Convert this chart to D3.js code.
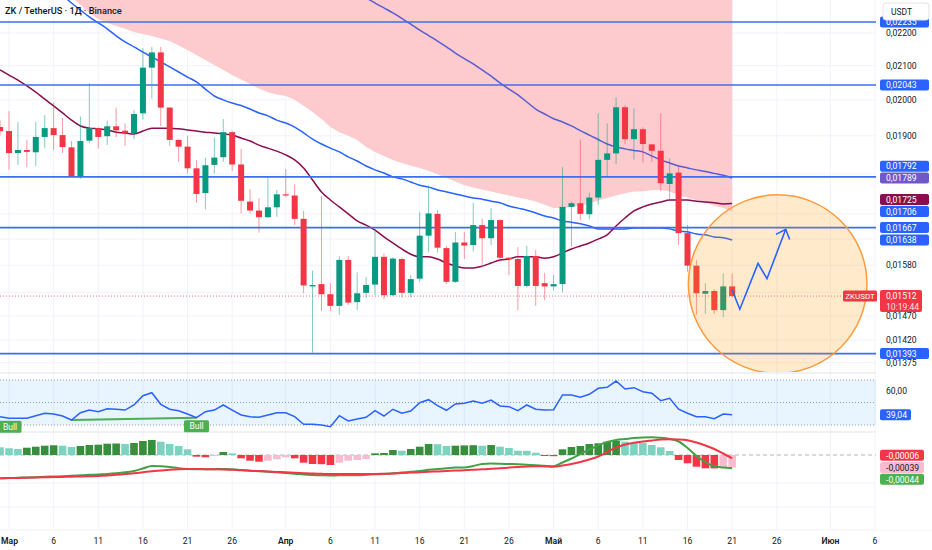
<!DOCTYPE html>
<html>
<head>
<meta charset="utf-8">
<script src="https://cdn.jsdelivr.net/npm/d3@7"></script>
<style>
  body { margin: 0; background: #fff; }
  svg text { font-family: Roboto, "Noto Sans", "DejaVu Sans", sans-serif; }
</style>
</head>
<body>
<div id="chart"></div>
<script>
// ---- data (daily candles from 28 Feb 2025) ----
const firstDay = Date.UTC(2025, 1, 28);

// [open, high, low, close]
const ohlc = [
  [0.01924,0.01943,0.01902,0.01913],[0.01913,0.01968,0.01810,0.01854],[0.01854,0.01938,0.01823,0.01862],
  [0.01862,0.01889,0.01817,0.01857],[0.01856,0.01938,0.01820,0.01897],[0.01897,0.01957,0.01867,0.01921],
  [0.01921,0.01992,0.01862,0.01902],[0.01902,0.01949,0.01854,0.01870],[0.01869,0.01886,0.01792,0.01794],
  [0.01794,0.01953,0.01787,0.01886],[0.01887,0.02048,0.01880,0.01921],[0.01921,0.01923,0.01866,0.01897],
  [0.01899,0.01941,0.01875,0.01926],[0.01926,0.01978,0.01897,0.01915],[0.01914,0.01934,0.01873,0.01907],
  [0.01907,0.01971,0.01891,0.01960],[0.01962,0.02153,0.01945,0.02094],[0.02094,0.02157,0.02004,0.02140],
  [0.02140,0.02157,0.01927,0.01978],[0.01978,0.01980,0.01873,0.01889],[0.01889,0.01891,0.01831,0.01871],
  [0.01871,0.01900,0.01801,0.01814],[0.01814,0.01836,0.01727,0.01749],[0.01751,0.01842,0.01711,0.01822],
  [0.01823,0.01895,0.01801,0.01842],[0.01843,0.01946,0.01831,0.01910],[0.01910,0.01914,0.01807,0.01824],
  [0.01824,0.01865,0.01701,0.01732],[0.01730,0.01761,0.01701,0.01708],[0.01708,0.01738,0.01655,0.01692],
  [0.01692,0.01791,0.01690,0.01716],[0.01716,0.01759,0.01693,0.01748],[0.01748,0.01812,0.01741,0.01745],
  [0.01745,0.01773,0.01673,0.01688],[0.01688,0.01707,0.01518,0.01535],[0.01533,0.01568,0.01395,0.01536],
  [0.01538,0.01744,0.01480,0.01516],[0.01516,0.01540,0.01480,0.01491],[0.01491,0.01601,0.01472,0.01592],
  [0.01592,0.01601,0.01493,0.01498],[0.01499,0.01564,0.01482,0.01518],[0.01519,0.01554,0.01508,0.01536],
  [0.01537,0.01663,0.01514,0.01599],[0.01599,0.01607,0.01505,0.01514],[0.01514,0.01598,0.01512,0.01595],
  [0.01594,0.01598,0.01509,0.01519],[0.01519,0.01558,0.01509,0.01549],[0.01550,0.01704,0.01543,0.01648],
  [0.01648,0.01771,0.01609,0.01701],[0.01700,0.01709,0.01609,0.01620],[0.01619,0.01624,0.01538,0.01543],
  [0.01543,0.01657,0.01541,0.01632],[0.01632,0.01657,0.01594,0.01625],[0.01626,0.01727,0.01611,0.01673],
  [0.01673,0.01688,0.01581,0.01642],[0.01642,0.01714,0.01626,0.01685],[0.01685,0.01687,0.01588,0.01597],
  [0.01597,0.01598,0.01558,0.01594],[0.01594,0.01621,0.01482,0.01534],[0.01534,0.01624,0.01530,0.01601],
  [0.01601,0.01615,0.01491,0.01534],[0.01540,0.01563,0.01503,0.01533],[0.01533,0.01558,0.01524,0.01538],
  [0.01538,0.01817,0.01520,0.01717],[0.01717,0.01730,0.01622,0.01726],[0.01726,0.01889,0.01685,0.01700],
  [0.01699,0.01752,0.01687,0.01740],[0.01740,0.01962,0.01722,0.01836],[0.01836,0.01934,0.01793,0.01853],
  [0.01853,0.02007,0.01825,0.01979],[0.01979,0.01985,0.01878,0.01891],[0.01891,0.01976,0.01837,0.01918],
  [0.01918,0.01923,0.01829,0.01878],[0.01877,0.01878,0.01831,0.01860],[0.01860,0.01962,0.01757,0.01776],
  [0.01774,0.01840,0.01734,0.01801],[0.01803,0.01820,0.01626,0.01654],[0.01654,0.01673,0.01566,0.01579],
  [0.01579,0.01592,0.01472,0.01518],[0.01517,0.01540,0.01474,0.01523],[0.01523,0.01527,0.01474,0.01482],
  [0.01482,0.01562,0.01467,0.01533],[0.01533,0.01562,0.01510,0.01512]
];

// moving averages (one value per candle)
const maMaroon = [
  0.02087,0.02072,0.02057,0.02040,0.02022,0.02002,0.01983,0.01963,0.01943,0.01927,0.01921,0.01919,
  0.01916,0.01910,0.01908,0.01905,0.01913,0.01921,0.01921,0.01921,0.01919,0.01916,0.01913,0.01910,
  0.01908,0.01905,0.01902,0.01894,0.01886,0.01875,0.01867,0.01859,0.01849,0.01836,0.01815,0.01784,
  0.01754,0.01734,0.01717,0.01700,0.01683,0.01673,0.01661,0.01645,0.01631,0.01617,0.01605,0.01599,
  0.01599,0.01594,0.01585,0.01578,0.01574,0.01574,0.01578,0.01585,0.01592,0.01594,0.01599,0.01599,
  0.01599,0.01596,0.01599,0.01608,0.01617,0.01624,0.01631,0.01640,0.01650,0.01671,0.01690,0.01707,
  0.01717,0.01724,0.01729,0.01734,0.01734,0.01734,0.01731,0.01729,0.01727,0.01724,0.01725
];
const maBlue = [
  0.02505,0.02476,0.02452,0.02424,0.02396,0.02373,0.02346,0.02322,0.02296,0.02273,0.02251,0.02232,
  0.02213,0.02191,0.02172,0.02157,0.02141,0.02126,0.02111,0.02096,0.02081,0.02066,0.02052,0.02031,
  0.02011,0.02000,0.01991,0.01984,0.01974,0.01963,0.01955,0.01943,0.01935,0.01924,0.01908,0.01891,
  0.01878,0.01867,0.01857,0.01844,0.01833,0.01820,0.01810,0.01802,0.01792,0.01787,0.01779,0.01771,
  0.01766,0.01759,0.01754,0.01749,0.01744,0.01739,0.01736,0.01731,0.01727,0.01719,0.01714,0.01709,
  0.01702,0.01695,0.01690,0.01683,0.01680,0.01676,0.01671,0.01664,0.01664,0.01664,0.01664,0.01666,
  0.01666,0.01666,0.01666,0.01664,0.01659,0.01657,0.01652,0.01650,0.01645,0.01643,0.01638
];
// slow MA, visible from candle #36 (4 Apr) on
const maPurpleStart = 36;
const maPurple = [
  0.02400,0.02383,0.02366,0.02349,0.02332,0.02313,0.02296,0.02280,0.02264,0.02246,0.02228,0.02209,
  0.02192,0.02175,0.02157,0.02138,0.02121,0.02105,0.02087,0.02069,0.02049,0.02031,0.02014,0.01994,
  0.01974,0.01960,0.01947,0.01938,0.01927,0.01914,0.01902,0.01890,0.01878,0.01870,0.01865,0.01861,
  0.01857,0.01846,0.01836,0.01828,0.01820,0.01815,0.01810,0.01806,0.01801,0.01796,0.01789
];
// lower edge of the red cloud, from candle #8 (7 Mar) on
const cloudStart = 8;
const cloudLower = [
  0.02316,0.02290,0.02264,0.02244,0.02232,0.02222,0.02213,0.02203,0.02197,0.02191,0.02183,0.02175,
  0.02161,0.02147,0.02132,0.02117,0.02102,0.02087,0.02072,0.02059,0.02046,0.02033,0.02022,0.02015,
  0.02011,0.02000,0.01983,0.01966,0.01946,0.01924,0.01910,0.01900,0.01889,0.01870,0.01857,0.01846,
  0.01836,0.01828,0.01821,0.01815,0.01808,0.01799,0.01789,0.01780,0.01771,0.01765,0.01760,0.01755,
  0.01750,0.01745,0.01740,0.01736,0.01730,0.01722,0.01714,0.01714,0.01717,0.01720,0.01725,0.01733,
  0.01739,0.01745,0.01751,0.01755,0.01756,0.01758,0.01759,0.01755,0.01746,0.01740,0.01734,0.01727,
  0.01720,0.01714,0.01706
];

const levels = [0.02235, 0.02043, 0.01792, 0.01667, 0.01393];
const lastPrice = 0.01512;
const lastTime = "10:19:44";

const rsiValues = [
  37.4,36.0,36.0,36.0,38.3,40.4,39.8,38.0,34.4,40.9,43.3,41.8,44.5,44.0,43.3,47.8,56.0,58.7,48.4,44.0,
  42.7,39.8,36.5,41.8,43.3,47.8,43.3,38.9,37.4,36.8,38.9,40.9,40.9,37.4,30.6,30.6,30.0,28.5,38.3,33.6,
  35.3,36.8,42.7,38.0,44.0,40.4,42.4,49.8,52.5,47.2,43.1,48.7,49.3,51.3,49.3,52.2,46.9,46.3,42.7,47.8,
  44.0,43.3,43.6,56.7,56.7,54.6,57.3,62.6,63.5,69.1,62.0,63.2,59.6,58.2,51.6,53.7,44.0,40.4,37.4,37.4,
  35.6,39.8,39.04
];
const bullMarks = [1, 22];          // candle indexes with a "Bull" tag
const divergence = [8, 22];         // RSI pivot lows joined by the green line

// MACD, in 1e-5 units
const macdHist = [
  7.7,6.7,6.0,7.3,8.3,9.3,9.7,9.3,8.0,9.0,10.0,10.3,11.3,11.5,11.1,12.0,14.0,15.0,13.3,11.0,9.0,5.7,
  -1.7,-2.3,-1.0,3.0,1.7,-3.3,-5.7,-6.7,-5.7,-4.3,-2.3,-3.3,-7.7,-9.0,-9.2,-10.0,-7.7,-5.7,-5.0,-4.0,
  1.7,2.0,5.0,4.3,6.0,8.3,11.0,10.8,9.0,9.3,9.6,9.8,9.3,10.0,8.3,7.0,4.3,4.2,2.3,-1.0,-1.2,5.7,8.0,
  9.0,11.0,11.7,13.3,14.3,13.3,12.3,12.2,10.0,7.7,4.0,-5.0,-8.3,-11.7,-13.3,-13.4,-12.7,-12.5
];
const macdLine = [
  -23.3,-23.0,-22.8,-22.5,-22.2,-21.8,-21.5,-21.2,-20.8,-20.3,-19.8,-19.4,-19.0,-18.3,-17.2,-16.0,
  -13.5,-11.0,-11.2,-12.0,-13.2,-14.0,-14.3,-14.3,-14.2,-14.0,-14.3,-15.0,-15.7,-16.2,-16.8,-17.3,
  -18.0,-18.7,-19.5,-20.0,-20.3,-20.5,-20.3,-20.3,-20.2,-19.8,-19.3,-19.0,-18.3,-17.5,-16.8,-16.0,
  -14.8,-14.0,-13.3,-12.5,-12.5,-11.0,-9.0,-8.5,-8.7,-9.0,-9.3,-9.7,-10.2,-10.8,-11.2,-7.5,-3.5,1.0,
  5.5,9.7,13.0,15.0,16.0,17.0,17.5,17.7,17.2,16.0,13.5,7.0,-1.0,-7.0,-11.3,-12.5,-13.3
];
const signalLine = [
  -23.3,-23.1,-22.9,-22.7,-22.5,-22.3,-22.1,-21.9,-21.7,-21.4,-21.2,-21.0,-20.5,-19.8,-19.0,-18.3,
  -17.3,-16.2,-15.5,-14.8,-14.3,-14.0,-14.0,-14.2,-14.3,-14.5,-14.8,-15.3,-15.7,-16.1,-16.5,-16.9,
  -17.3,-17.8,-18.2,-18.6,-18.8,-19.0,-19.0,-19.0,-19.0,-19.0,-19.0,-18.8,-18.5,-18.0,-17.6,-17.2,
  -16.8,-16.4,-16.0,-15.6,-15.2,-14.8,-14.3,-13.8,-13.2,-12.6,-12.0,-11.4,-11.2,-11.4,-11.7,-10.5,
  -9.0,-7.0,-4.5,-1.5,3.0,7.5,10.5,12.3,13.5,14.5,15.5,15.7,15.5,14.8,12.5,9.5,6.0,1.5,-3.3
];
const macdTags = ["-0,00006", "-0,00039", "-0,00044"];   // signal, histogram, macd

// forecast drawing: [candle index (fractional), price]
const forecastPath = [[82, 0.01525], [82.86, 0.01484], [84.9, 0.01584], [85.9, 0.01550], [88.0, 0.01663]];
const zoneCenter = [87.1, 0.01538];
const zoneRadiusDays = 10;

const priceTicks = [0.022, 0.021, 0.020, 0.019, 0.018, 0.017, 0.0164, 0.0158, 0.0152, 0.0147, 0.0142, 0.01375];
const timeTicks = [
  [2025,2,1],[2025,2,6],[2025,2,11],[2025,2,16],[2025,2,21],[2025,2,26],
  [2025,3,1],[2025,3,6],[2025,3,11],[2025,3,16],[2025,3,21],[2025,3,26],
  [2025,4,1],[2025,4,6],[2025,4,11],[2025,4,16],[2025,4,21],[2025,4,26],
  [2025,5,1],[2025,5,6]
];
const timeLabels = ["Мар","6","11","16","21","26","Апр","6","11","16","21","26","Май","6","11","16","21","26","Июн","6"];

// ---- chart ----
const W = 932, H = 550, plotW = 876;
const mainBottom = 372;
const FS = 8.6;   // axis font size
const C = {
  up: "#089981", down: "#f23645", blue: "#2962ff", maroon: "#880e4f", purple: "#5b5bd0",
  text: "#131722", grid: "#f0f3fa"
};
const dayAt = i => new Date(firstDay + i * 864e5);

const x = d3.scaleUtc()
  .domain([Date.UTC(2025, 2, 1), Date.UTC(2025, 5, 6)])
  .range([9, 875]);
const y = d3.scaleLog().domain([0.022, 0.01375]).range([33, 362.7]);
const rsiY = d3.scaleLinear().domain([30, 70]).range([425, 380]);
const macdY = d3.scaleLinear().domain([0, 10]).range([455, 445]);

const fmt = (v, n) => v.toFixed(n).replace(".", ",");

const svg = d3.select("#chart").append("svg")
  .attr("width", W).attr("height", H)
  .style("display", "block");

const defs = svg.append("defs");
defs.append("clipPath").attr("id", "clipMain")
  .append("rect").attr("x", 0).attr("y", 0).attr("width", plotW).attr("height", mainBottom);
defs.append("clipPath").attr("id", "clipInd")
  .append("rect").attr("x", 0).attr("y", mainBottom + 1).attr("width", plotW).attr("height", 530 - mainBottom);

// grid
const grid = svg.append("g");
grid.selectAll("line.v").data(timeTicks).join("line")
  .attr("x1", d => x(Date.UTC(...d))).attr("x2", d => x(Date.UTC(...d)))
  .attr("y1", 0).attr("y2", 530)
  .attr("stroke", C.grid);
grid.selectAll("line.h").data(priceTicks).join("line")
  .attr("x1", 0).attr("x2", plotW)
  .attr("y1", d => y(d)).attr("y2", d => y(d))
  .attr("stroke", C.grid);
[373, 432, 483, 507, 530].forEach(v => {
  grid.append("line").attr("x1", 0).attr("x2", W).attr("y1", v).attr("y2", v)
    .attr("stroke", v === 373 || v === 432 ? "#e0e3eb" : C.grid);
});

// ---- main pane ----
const main = svg.append("g").attr("clip-path", "url(#clipMain)");

main.append("path")
  .datum(cloudLower)
  .attr("fill", "#fdcacd")
  .attr("d", d3.area()
    .x((d, i) => x(dayAt(i + cloudStart)))
    .y0(0)
    .y1(d => y(d)));

const maLine = start => d3.line()
  .x((d, i) => x(dayAt(i + start)))
  .y(d => y(d))
  .curve(d3.curveMonotoneX);

main.append("path").datum(maPurple).attr("fill", "none")
  .attr("stroke", C.purple).attr("stroke-width", 1.5).attr("d", maLine(maPurpleStart));
main.append("path").datum(maBlue).attr("fill", "none")
  .attr("stroke", C.blue).attr("stroke-width", 1.5).attr("d", maLine(0));
main.append("path").datum(maMaroon).attr("fill", "none")
  .attr("stroke", C.maroon).attr("stroke-width", 1.5).attr("d", maLine(0));

main.selectAll("line.level").data(levels).join("line")
  .attr("x1", 0).attr("x2", plotW)
  .attr("y1", d => y(d)).attr("y2", d => y(d))
  .attr("stroke", "#3d6df2").attr("stroke-width", 1.6);

// last price dotted line
main.append("line")
  .attr("x1", 0).attr("x2", plotW)
  .attr("y1", y(lastPrice)).attr("y2", y(lastPrice))
  .attr("stroke", C.down).attr("stroke-width", 1)
  .attr("stroke-dasharray", "1,2").attr("opacity", 0.7);

// candles
const candles = ohlc.map((r, i) => ({ t: dayAt(i), o: r[0], h: r[1], l: r[2], c: r[3] }));
const cg = main.append("g").selectAll("g").data(candles).join("g");
cg.append("line")
  .attr("x1", d => x(d.t)).attr("x2", d => x(d.t))
  .attr("y1", d => y(d.h)).attr("y2", d => y(d.l))
  .attr("stroke", d => d.c >= d.o ? C.up : C.down)
  .attr("stroke-opacity", 0.5);
cg.append("rect")
  .attr("x", d => x(d.t) - 3).attr("width", 6)
  .attr("y", d => y(Math.max(d.o, d.c)))
  .attr("height", d => Math.max(1, Math.abs(y(d.o) - y(d.c))))
  .attr("fill", d => d.c >= d.o ? C.up : C.down);

// forecast zone + path
const zx = x(dayAt(zoneCenter[0]));
main.append("circle")
  .attr("cx", zx).attr("cy", y(zoneCenter[1]))
  .attr("r", x(dayAt(zoneCenter[0] + zoneRadiusDays)) - zx)
  .attr("fill", "rgba(255,152,0,0.2)")
  .attr("stroke", "#ff9a3c").attr("stroke-width", 1.5);

const fpts = forecastPath.map(p => [x(dayAt(p[0])), y(p[1])]);
main.append("path")
  .attr("d", d3.line()(fpts))
  .attr("fill", "none").attr("stroke", C.blue).attr("stroke-width", 1.6);
{
  const [a, b] = fpts.slice(-2);
  const ang = Math.atan2(a[1] - b[1], a[0] - b[0]);
  const len = 11, spread = Math.PI / 4.3;
  const arm = s => [b[0] + len * Math.cos(ang + s), b[1] + len * Math.sin(ang + s)];
  main.append("path")
    .attr("d", d3.line()([arm(spread), b, arm(-spread)]))
    .attr("fill", "none").attr("stroke", C.blue).attr("stroke-width", 1.6);
}

// ---- RSI pane ----
const ind = svg.append("g").attr("clip-path", "url(#clipInd)");
ind.append("rect")
  .attr("x", 0).attr("width", plotW)
  .attr("y", rsiY(70)).attr("height", rsiY(30) - rsiY(70))
  .attr("fill", "rgba(33,150,243,0.1)");
[70, 50, 30].forEach(v => {
  ind.append("line").attr("x1", 0).attr("x2", plotW)
    .attr("y1", rsiY(v)).attr("y2", rsiY(v))
    .attr("stroke", "#9598a1").attr("stroke-dasharray", "1,2");
});
ind.append("line")
  .attr("x1", x(dayAt(divergence[0]))).attr("x2", x(dayAt(divergence[1])))
  .attr("y1", rsiY(rsiValues[divergence[0]])).attr("y2", rsiY(rsiValues[divergence[1]]))
  .attr("stroke", "#4caf50").attr("stroke-width", 2);
ind.append("path").datum(rsiValues)
  .attr("fill", "none").attr("stroke", C.blue).attr("stroke-width", 1.5)
  .attr("d", d3.line().x((d, i) => x(dayAt(i))).y(d => rsiY(d)));
const bull = ind.selectAll("g.bull").data(bullMarks).join("g");
bull.append("rect")
  .attr("x", d => x(dayAt(d)) - 12.5).attr("width", 25)
  .attr("y", d => rsiY(rsiValues[d]) + 2.5).attr("height", 12)
  .attr("rx", 1.5).attr("fill", "#4caf50");
bull.append("text")
  .attr("x", d => Math.max(x(dayAt(d)), 10)).attr("y", d => rsiY(rsiValues[d]) + 11.5)
  .attr("text-anchor", "middle").attr("font-size", 8.5).attr("fill", "#fff")
  .text("Bull");

// ---- MACD pane ----
ind.append("line").attr("x1", 0).attr("x2", plotW)
  .attr("y1", macdY(0)).attr("y2", macdY(0))
  .attr("stroke", "#b2b5be").attr("stroke-dasharray", "4,3");
ind.selectAll("rect.hist").data(macdHist).join("rect")
  .attr("x", (d, i) => x(dayAt(i)) - 3.8).attr("width", 7.6)
  .attr("y", d => Math.min(macdY(d), macdY(0)))
  .attr("height", d => Math.abs(macdY(d) - macdY(0)))
  .attr("fill", (d, i) => {
    const prev = i ? macdHist[i - 1] : d;
    if (d >= 0) return d > prev ? "#388e3c" : "#7dd3bf";
    return d < prev ? "#f23645" : "#f8bbd0";
  });
const lineM = d3.line().x((d, i) => x(dayAt(i))).y(d => macdY(d)).curve(d3.curveMonotoneX);
ind.append("path").datum(macdLine).attr("fill", "none")
  .attr("stroke", "#43a047").attr("stroke-width", 2).attr("d", lineM);
ind.append("path").datum(signalLine).attr("fill", "none")
  .attr("stroke", "#f23645").attr("stroke-width", 2).attr("d", lineM);

// ---- axes ----
const xa = svg.append("g");
xa.selectAll("text").data(timeTicks).join("text")
  .attr("x", d => x(Date.UTC(...d))).attr("y", 544)
  .attr("text-anchor", "middle").attr("font-size", FS).attr("fill", C.text)
  .attr("font-weight", (d, i) => isNaN(+timeLabels[i]) ? 600 : 400)
  .text((d, i) => timeLabels[i])
  .each(function () {
    // keep the first label inside the picture
    const b = this.getBBox();
    if (b.x < 1) d3.select(this).attr("text-anchor", "start").attr("x", 1);
  });

const ya = svg.append("g");
ya.append("rect").attr("x", plotW).attr("y", 0).attr("width", W - plotW).attr("height", 530).attr("fill", "#fff");

function tag(cy, label, fill, color, w) {
  const g = svg.append("g");
  g.append("rect").attr("x", 880).attr("y", cy - 5.5).attr("width", w || 49).attr("height", 11)
    .attr("rx", 2).attr("fill", fill);
  g.append("text").attr("x", 886).attr("y", cy + 3.2)
    .attr("font-size", FS).attr("fill", color || "#fff").text(label);
}

// price tags, pushed upward when they overlap
const priceTags = [
  { v: levels[0], fill: C.blue }, { v: levels[1], fill: C.blue },
  { v: levels[2], fill: C.blue }, { v: maPurple[maPurple.length - 1], fill: "#7158c9" },
  { v: maMaroon[maMaroon.length - 1], fill: C.maroon }, { v: cloudLower[cloudLower.length - 1], fill: C.blue },
  { v: levels[3], fill: C.blue }, { v: maBlue[maBlue.length - 1], fill: C.blue },
  { v: levels[4], fill: C.blue }
].map(d => ({ ...d, cy: y(d.v) })).sort((a, b) => b.cy - a.cy);
for (let i = 1; i < priceTags.length; i++) {
  priceTags[i].cy = Math.min(priceTags[i].cy, priceTags[i - 1].cy - 11.8);
}

// tick labels that would sit under a tag are hidden, as on the original
const taken = priceTags.map(d => [d.cy - 5.5, d.cy + 5.5]).concat([[y(lastPrice) - 6, y(lastPrice) + 16], [3, 20]]);
ya.selectAll("text").data(priceTicks.filter(t => {
    const ty = y(t);
    return !taken.some(r => ty + 3.5 > r[0] && ty - 3.5 < r[1]);
  })).join("text")
  .attr("x", 886).attr("y", d => y(d) + 3.2)
  .attr("font-size", FS).attr("fill", C.text)
  .text(d => fmt(d, 5));
ya.append("text").attr("x", 886).attr("y", rsiY(60) + 3.2)
  .attr("font-size", FS).attr("fill", C.text).text("60,00");

priceTags.forEach(d => tag(d.cy, fmt(d.v, 5), d.fill));

// last price
{
  const cy = y(lastPrice);
  svg.append("rect").attr("x", 843).attr("y", cy - 5.5).attr("width", 34).attr("height", 11)
    .attr("rx", 1.5).attr("fill", C.down);
  svg.append("text").attr("x", 860).attr("y", cy + 3).attr("text-anchor", "middle")
    .attr("font-size", 8).attr("fill", "#fff").text("ZKUSDT");
  svg.append("rect").attr("x", 880).attr("y", cy - 6).attr("width", 42).attr("height", 22)
    .attr("rx", 2).attr("fill", C.down);
  svg.append("text").attr("x", 886).attr("y", cy + 3.2)
    .attr("font-size", FS).attr("fill", "#fff").text(fmt(lastPrice, 5));
  svg.append("text").attr("x", 886).attr("y", cy + 13.5)
    .attr("font-size", FS).attr("fill", "#fde0e3").text(lastTime);
}

tag(rsiY(rsiValues[rsiValues.length - 1]), fmt(rsiValues[rsiValues.length - 1], 2), C.blue, "#fff", 31);

// macd tags, pushed downward when they overlap
const mt = [
  { cy: macdY(signalLine[signalLine.length - 1]), fill: "#f23645", color: "#fff" },
  { cy: macdY(macdHist[macdHist.length - 1]), fill: "#f8bbd0", color: C.text },
  { cy: macdY(macdLine[macdLine.length - 1]), fill: "#4caf50", color: "#fff" }
];
mt[0].cy -= 3;
for (let i = 1; i < mt.length; i++) mt[i].cy = Math.max(mt[i].cy, mt[i - 1].cy + 11.8);
mt.forEach((d, i) => tag(d.cy, macdTags[i], d.fill, d.color, 44));

// header + currency box
svg.append("text").attr("x", 5).attr("y", 14)
  .attr("font-size", 9.2).attr("font-weight", 500).attr("fill", C.text)
  .text("ZK / TetherUS · 1Д · Binance");
svg.append("rect").attr("x", 883).attr("y", 3).attr("width", 46).attr("height", 17)
  .attr("rx", 3).attr("fill", "#fff").attr("stroke", "#e0e3eb");
svg.append("text").attr("x", 891).attr("y", 14.5)
  .attr("font-size", 8.5).attr("fill", C.text).text("USDT");
</script>
</body>
</html>
